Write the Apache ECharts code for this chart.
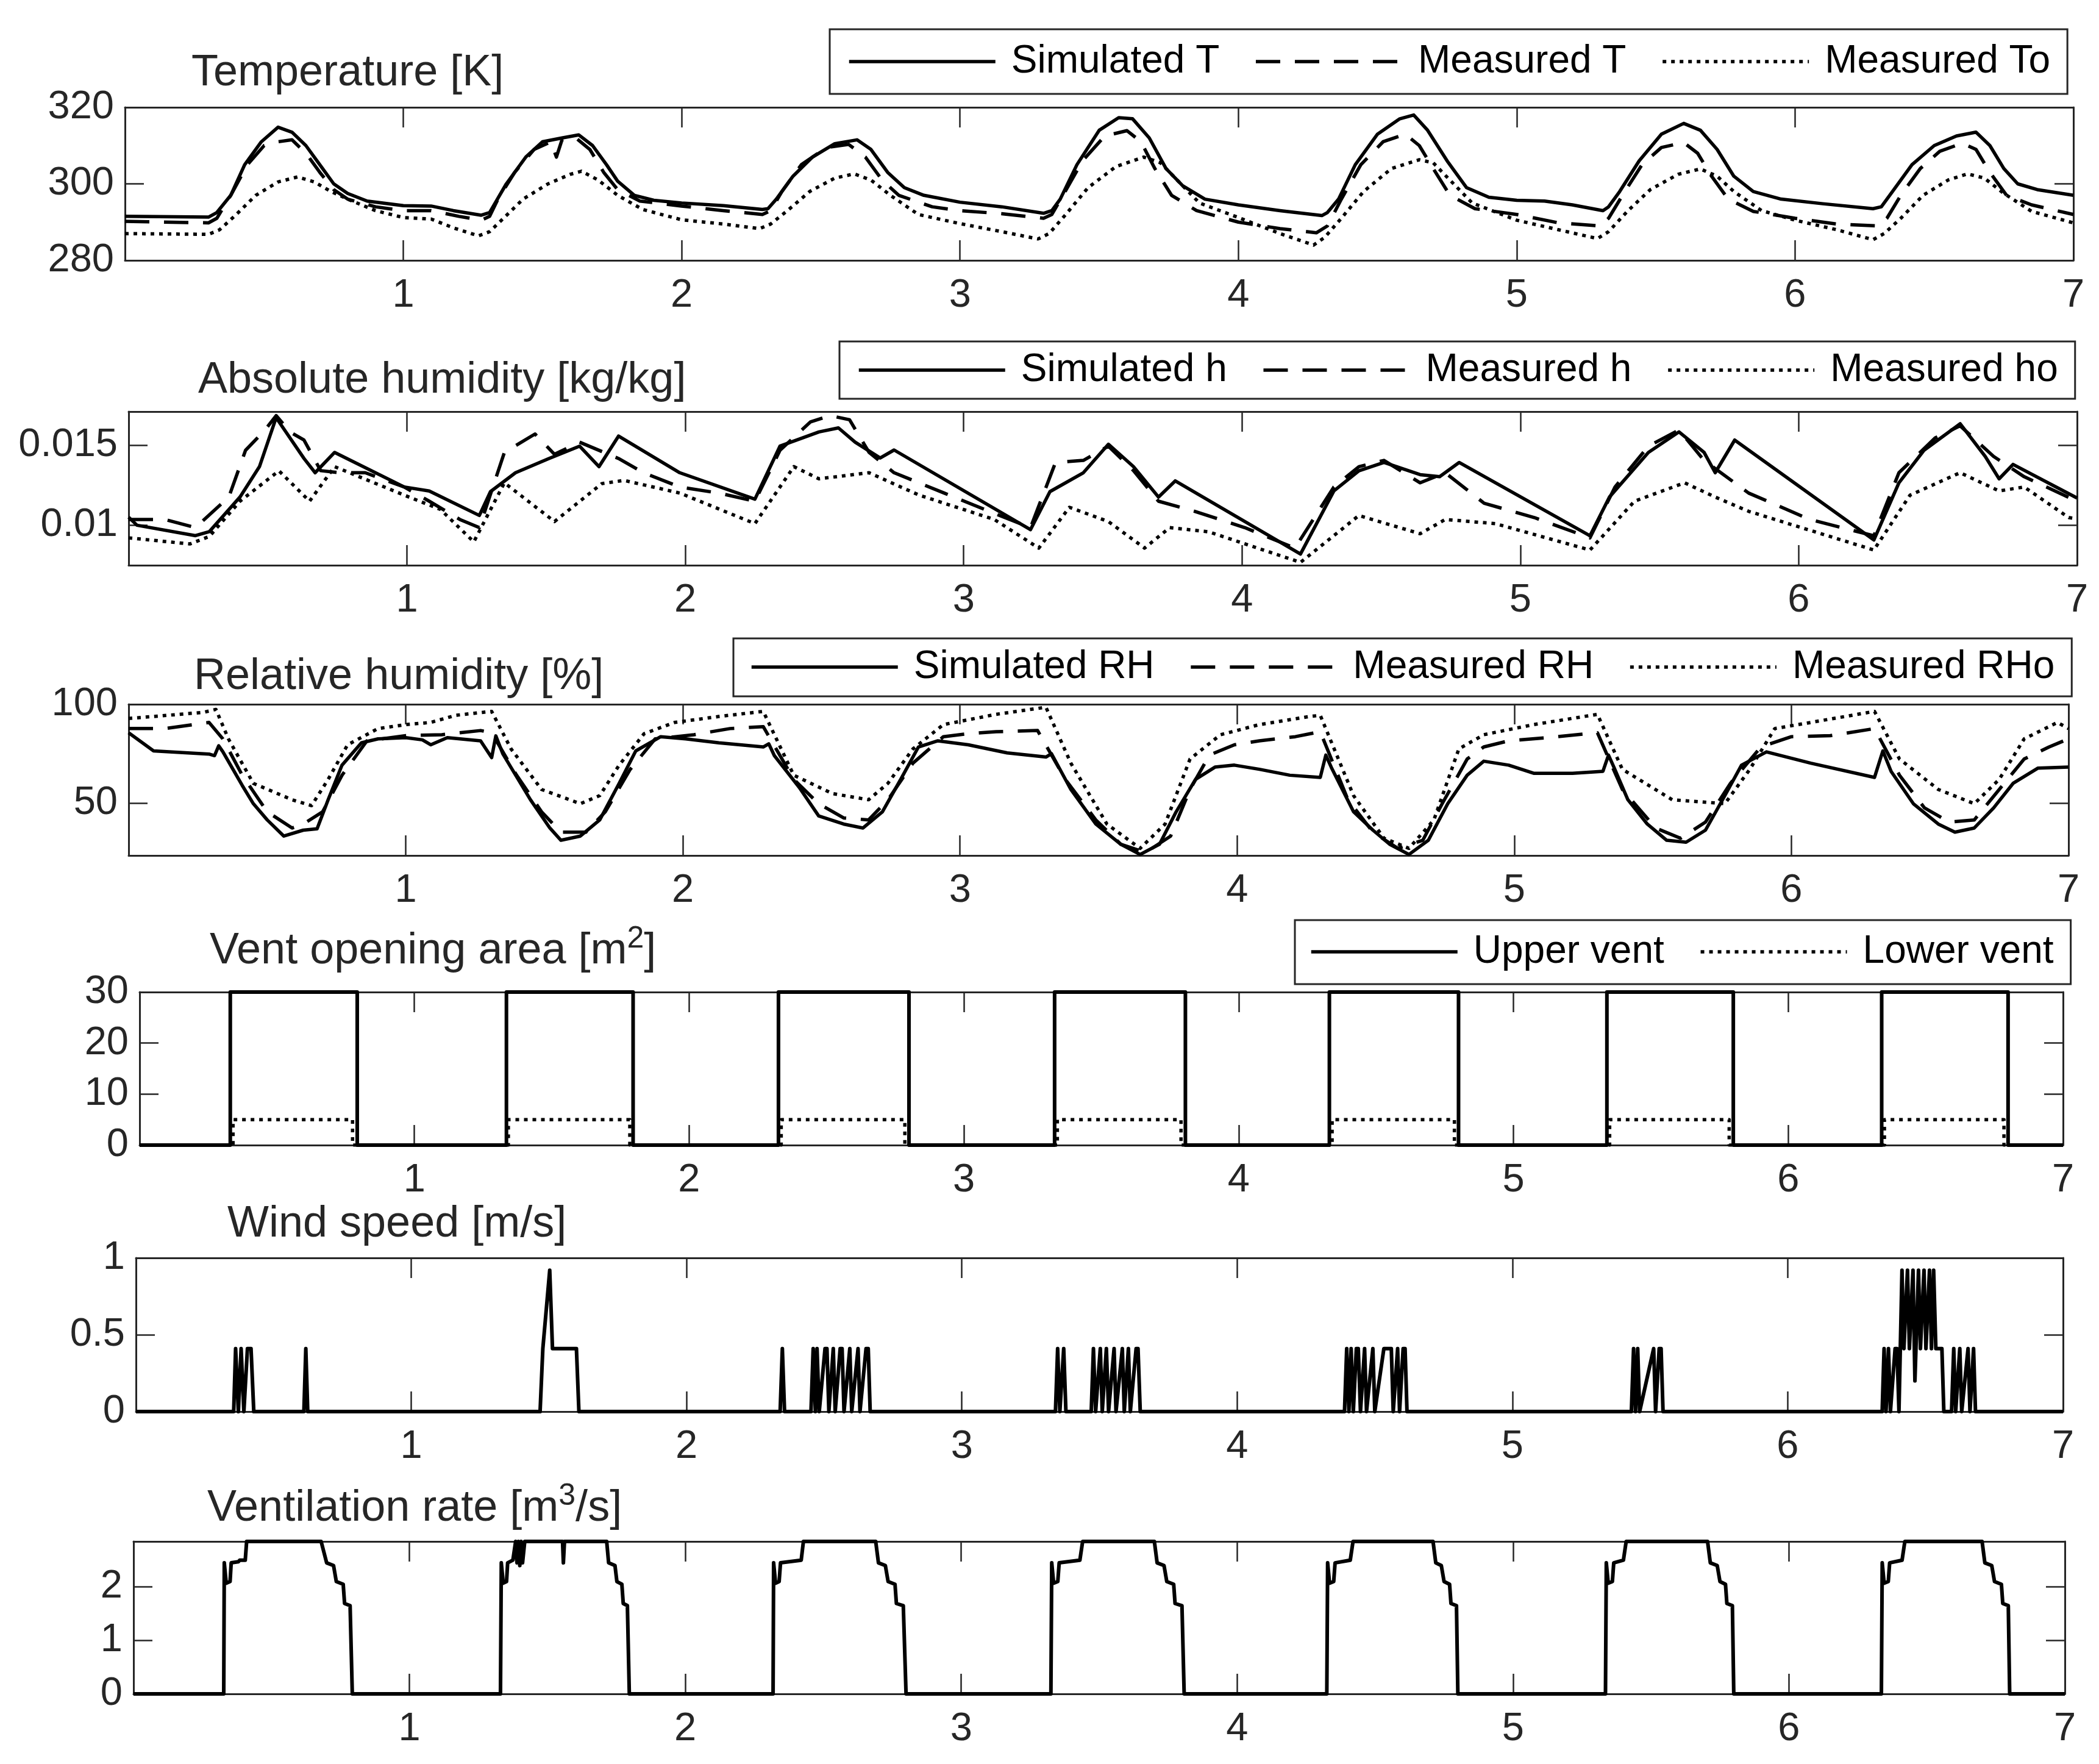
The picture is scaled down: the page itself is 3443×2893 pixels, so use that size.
<!DOCTYPE html>
<html><head><meta charset="utf-8">
<script src="https://cdn.jsdelivr.net/npm/echarts@6/dist/echarts.min.js"></script>
<style>html,body{margin:0;padding:0;background:#fff}#c{width:3443px;height:2893px}</style>
</head><body><div id="c"></div>
<script>
// ---------------- DATA (x in days) ----------------
const xTickValues = [1, 2, 3, 4, 5, 6, 7];

const tempTicks = [280, 300, 320];
const simT = [[0,291.5],[0.3,291.3],[0.33,292.5],[0.38,297],[0.43,305],[0.49,311],[0.55,314.8],[0.6,313.5],[0.65,310],[0.7,305],[0.75,300],[0.8,297.5],[0.87,295.5],[1.0,294.3],[1.1,294.2],[1.18,293],[1.28,291.8],[1.31,292.5],[1.33,295],[1.37,300],[1.44,307],[1.5,311],[1.57,312],[1.63,312.8],[1.68,310],[1.73,305],[1.77,300.7],[1.83,297],[1.9,295.7],[2.0,295],[2.15,294.3],[2.29,293.3],[2.31,293.5],[2.34,296],[2.4,302],[2.47,307],[2.55,310.5],[2.63,311.5],[2.68,309],[2.74,303],[2.8,299],[2.87,297],[3.0,295.2],[3.15,294],[3.3,292.3],[3.33,293],[3.36,296],[3.42,305],[3.5,314],[3.57,317.3],[3.62,317],[3.68,312],[3.74,304],[3.8,299.5],[3.88,296],[4.0,294.5],[4.15,293],[4.3,291.7],[4.32,292.5],[4.36,296],[4.42,305],[4.5,313],[4.58,317],[4.63,318],[4.68,314],[4.75,306],[4.82,299],[4.9,296.5],[5.0,295.7],[5.1,295.5],[5.2,294.5],[5.31,293],[5.33,294],[5.37,298],[5.44,306],[5.52,313],[5.6,315.8],[5.66,314],[5.72,309],[5.78,302],[5.85,298],[5.95,296],[6.1,294.8],[6.28,293.5],[6.31,294],[6.35,298],[6.42,305],[6.5,310],[6.58,312.5],[6.65,313.5],[6.7,310],[6.75,304],[6.8,300],[6.87,298.5],[7.0,297]];
const measT = [[0,290.2],[0.3,289.8],[0.33,291],[0.38,297],[0.44,305],[0.5,310],[0.55,311],[0.6,311.5],[0.65,308],[0.7,303],[0.75,298.5],[0.8,296],[0.9,294],[1.0,293],[1.1,293],[1.2,291.5],[1.28,290.5],[1.31,291.5],[1.34,296],[1.4,303],[1.47,309],[1.53,311],[1.55,307],[1.57,311.5],[1.62,312],[1.67,309],[1.72,303],[1.77,298.5],[1.85,295.5],[2.0,294.2],[2.15,293],[2.29,292],[2.32,293],[2.36,298],[2.43,305],[2.52,309.5],[2.6,310.3],[2.66,307],[2.72,301],[2.78,297],[2.9,294],[3.0,293],[3.15,292.2],[3.3,291],[3.33,292],[3.37,297],[3.44,306],[3.52,312.5],[3.6,313.9],[3.65,311],[3.7,304],[3.76,297],[3.85,293],[4.0,290],[4.15,288.3],[4.28,287.2],[4.32,289],[4.37,296],[4.44,305],[4.52,311],[4.6,313],[4.65,310],[4.7,304],[4.76,297],[4.85,293.5],[5.0,292],[5.15,289.8],[5.3,289],[5.33,291],[5.38,297],[5.45,305],[5.52,309.5],[5.6,310.8],[5.65,308],[5.7,302],[5.76,296],[5.85,292.8],[6.0,291],[6.15,289.5],[6.3,289],[6.33,291],[6.38,297],[6.45,304],[6.52,308.5],[6.6,310.6],[6.65,309],[6.7,303],[6.76,297],[6.85,294.5],[7.0,292]];
const measTo = [[0,287],[0.3,286.8],[0.34,288],[0.4,292],[0.47,297],[0.55,300.5],[0.62,301.8],[0.68,300.5],[0.74,298],[0.8,296],[0.9,293],[1.0,291.2],[1.1,290.8],[1.18,288.5],[1.27,286.4],[1.31,287.5],[1.36,291],[1.43,296],[1.52,300],[1.6,302.5],[1.64,303.3],[1.7,301],[1.77,297],[1.86,293.3],[2.0,290.6],[2.15,289.5],[2.28,288.3],[2.32,289.5],[2.38,293],[2.46,298],[2.55,301.5],[2.62,302.6],[2.68,301],[2.75,297],[2.85,292],[3.0,289.6],[3.15,287.5],[3.28,285.6],[3.32,287],[3.38,292],[3.46,299],[3.56,304.5],[3.66,307],[3.72,305.5],[3.78,301],[3.86,295],[4.0,291.2],[4.15,287],[4.27,284],[4.31,286],[4.37,291],[4.45,298],[4.55,304],[4.65,306.3],[4.7,305.5],[4.76,301],[4.84,295],[5.0,290.5],[5.15,288],[5.29,285.7],[5.33,287.5],[5.4,293],[5.48,298.5],[5.58,302.5],[5.66,303.9],[5.72,302],[5.78,298],[5.88,293],[6.0,290.5],[6.15,288],[6.28,285.4],[6.32,287],[6.38,291],[6.46,297],[6.55,301],[6.62,302.6],[6.68,301.5],[6.75,297.5],[6.85,292.8],[7.0,289.8]];

const humTicks = [0.01, 0.015];
const simH = [[0,0.0105],[0.03,0.0100],[0.24,0.00935],[0.29,0.0096],[0.40,0.01176],[0.47,0.01366],[0.53,0.01672],[0.63,0.01417],[0.67,0.01328],[0.74,0.01455],[0.99,0.01239],[1.08,0.01214],[1.26,0.01061],[1.30,0.0121],[1.39,0.01328],[1.51,0.01417],[1.62,0.01494],[1.69,0.01366],[1.76,0.01557],[1.98,0.01328],[2.25,0.01163],[2.34,0.01494],[2.48,0.01583],[2.55,0.01608],[2.61,0.01519],[2.70,0.0142],[2.75,0.0147],[3.24,0.00972],[3.31,0.0121],[3.43,0.01328],[3.52,0.01506],[3.61,0.01366],[3.70,0.01176],[3.76,0.01277],[4.21,0.0082],[4.33,0.01214],[4.42,0.0134],[4.51,0.01392],[4.64,0.01316],[4.71,0.01303],[4.78,0.01392],[5.25,0.00934],[5.32,0.01176],[5.46,0.01455],[5.57,0.01583],[5.66,0.01455],[5.70,0.01328],[5.77,0.01532],[6.27,0.00908],[6.36,0.01265],[6.45,0.01468],[6.58,0.01634],[6.67,0.0143],[6.72,0.0129],[6.77,0.0138],[7.0,0.0117]];
const measH = [[0,0.01036],[0.13,0.01036],[0.24,0.00985],[0.36,0.01176],[0.42,0.01468],[0.49,0.01595],[0.53,0.01685],[0.58,0.01583],[0.63,0.01532],[0.69,0.01341],[0.76,0.01328],[0.85,0.01328],[0.99,0.01239],[1.08,0.0115],[1.19,0.01036],[1.26,0.00985],[1.35,0.01455],[1.46,0.0157],[1.53,0.01443],[1.62,0.01519],[1.76,0.01417],[1.85,0.01328],[1.98,0.01239],[2.12,0.01201],[2.25,0.0115],[2.34,0.01468],[2.45,0.01646],[2.52,0.01685],[2.59,0.01659],[2.66,0.01455],[2.75,0.01328],[2.93,0.01201],[3.11,0.01074],[3.24,0.00985],[3.33,0.01392],[3.43,0.01405],[3.52,0.01494],[3.61,0.01341],[3.70,0.0115],[3.83,0.01087],[4.01,0.00985],[4.19,0.00857],[4.33,0.01239],[4.42,0.01366],[4.51,0.01405],[4.64,0.01265],[4.73,0.01328],[4.87,0.01137],[5.05,0.01048],[5.25,0.00921],[5.34,0.01239],[5.46,0.01494],[5.57,0.01595],[5.66,0.01405],[5.82,0.01201],[6.04,0.01036],[6.27,0.00934],[6.36,0.01328],[6.49,0.01545],[6.58,0.01621],[6.70,0.0143],[6.81,0.01303],[7.0,0.0115]];
const measHo = [[0,0.00921],[0.22,0.00883],[0.29,0.0093],[0.40,0.0115],[0.54,0.0134],[0.65,0.0115],[0.74,0.01366],[0.99,0.01188],[1.12,0.01099],[1.24,0.00896],[1.35,0.01265],[1.53,0.01023],[1.70,0.0126],[1.78,0.0128],[1.98,0.01201],[2.25,0.0101],[2.39,0.01366],[2.48,0.0129],[2.66,0.01328],[2.84,0.01188],[3.11,0.01036],[3.27,0.00857],[3.38,0.01112],[3.52,0.01023],[3.65,0.00857],[3.74,0.00985],[3.88,0.00959],[4.21,0.00768],[4.42,0.01061],[4.64,0.00947],[4.73,0.01036],[4.91,0.0101],[5.25,0.00845],[5.41,0.0115],[5.59,0.01265],[5.70,0.01176],[5.82,0.01087],[6.27,0.00845],[6.40,0.01188],[6.58,0.01328],[6.72,0.01214],[6.81,0.01239],[6.97,0.01048],[7.0,0.0104]];

const rhTicks = [50, 100];
const simRH = [[0,85.6],[0.09,76.4],[0.29,74.8],[0.31,74],[0.325,79],[0.34,76],[0.41,58.9],[0.45,49.7],[0.50,41.5],[0.56,33.3],[0.63,36.3],[0.68,37],[0.72,51.7],[0.77,69.2],[0.84,80.5],[0.90,82.5],[1.0,83.1],[1.06,82],[1.09,79.5],[1.15,83.1],[1.27,81.5],[1.31,73],[1.325,84],[1.35,75],[1.45,51.7],[1.52,37.4],[1.56,31.2],[1.63,33.3],[1.70,41.5],[1.77,60],[1.83,76.4],[1.92,83.6],[2.01,82.5],[2.13,80.5],[2.29,78.4],[2.31,80],[2.33,74],[2.42,57.9],[2.49,43.5],[2.58,39.4],[2.65,37.4],[2.72,45.6],[2.79,63],[2.85,78.4],[2.92,81.5],[3.03,79.5],[3.17,75.4],[3.31,73.3],[3.33,75],[3.40,56.9],[3.49,39.4],[3.58,29.2],[3.65,24],[3.72,29.2],[3.78,45.6],[3.85,62],[3.92,68.2],[3.99,69.2],[4.08,67.1],[4.19,64.1],[4.30,63],[4.32,74.3],[4.34,68],[4.42,45.6],[4.49,36.3],[4.55,29.2],[4.62,24],[4.69,31.2],[4.76,49.7],[4.83,64.1],[4.89,71.2],[4.98,69.2],[5.07,65.1],[5.21,65.1],[5.32,66.1],[5.34,74.3],[5.36,68],[5.41,51.7],[5.48,39.4],[5.55,31.2],[5.62,30.2],[5.69,36.3],[5.76,53.8],[5.82,69.2],[5.91,75.9],[6.07,70.2],[6.30,63],[6.33,76.4],[6.36,66],[6.44,49.7],[6.53,39.4],[6.59,35.3],[6.66,37.4],[6.73,47.6],[6.80,60],[6.89,67.7],[7.0,68.2]];
const measRH = [[0,87.7],[0.13,87.7],[0.29,90.8],[0.34,82.5],[0.41,64.1],[0.50,45.6],[0.59,37.4],[0.63,39.4],[0.70,45.6],[0.77,64.1],[0.86,81.5],[1.0,84.1],[1.13,84.6],[1.27,86.7],[1.31,85.6],[1.40,64.1],[1.49,45.6],[1.56,35.3],[1.65,35.3],[1.72,45.6],[1.81,67.1],[1.90,82.5],[2.04,84.6],[2.17,87.7],[2.29,88.7],[2.40,62],[2.49,49.7],[2.58,42.5],[2.67,41.5],[2.74,51.7],[2.83,70.2],[2.94,83.6],[3.03,85.1],[3.13,86.1],[3.28,86.7],[3.38,62],[3.49,41.5],[3.58,29.2],[3.67,25],[3.76,33.3],[3.83,56.9],[3.90,74.3],[3.99,79.5],[4.08,81.5],[4.21,83.6],[4.30,86.1],[4.40,51.7],[4.49,35.3],[4.58,27.1],[4.67,31.2],[4.74,49.7],[4.83,72.3],[4.89,78.4],[4.98,81.5],[5.12,83.1],[5.30,85.6],[5.39,56.9],[5.51,37.4],[5.60,32.2],[5.69,40.4],[5.78,60],[5.89,78.4],[6.00,83.6],[6.14,84.1],[6.30,87.7],[6.39,64.1],[6.48,47.6],[6.57,40.4],[6.66,41.5],[6.75,56.9],[6.84,72.3],[6.93,78.4],[7.0,82.5]];
const measRHo = [[0,92.8],[0.27,95.9],[0.315,97.4],[0.36,82.5],[0.45,60],[0.59,51.7],[0.66,48.7],[0.72,62],[0.79,79.5],[0.90,87.7],[1.0,89.7],[1.09,90.8],[1.18,94.4],[1.31,96.4],[1.38,77.4],[1.49,56.9],[1.63,49.7],[1.70,53.8],[1.77,69.2],[1.86,85.1],[1.97,90.8],[2.13,93.8],[2.29,96.4],[2.40,64.1],[2.54,54.8],[2.67,51.7],[2.74,60],[2.83,77.4],[2.94,89.7],[3.13,94.9],[3.31,98.5],[3.40,70.2],[3.53,39.4],[3.65,27.1],[3.74,39.4],[3.83,72.3],[3.94,84.6],[4.08,89.7],[4.26,93.8],[4.30,94.4],[4.42,53.8],[4.53,32.2],[4.62,27.1],[4.71,41.5],[4.80,77.4],[4.89,84.6],[5.07,89.7],[5.30,94.9],[5.39,67.1],[5.57,51.7],[5.76,49.7],[5.85,67.1],[5.94,87.7],[6.07,90.8],[6.30,96.4],[6.39,72.3],[6.53,56.9],[6.66,49.7],[6.75,62],[6.84,82.5],[6.96,90.8],[7.0,87.7]];

const ventTicks = [0, 10, 20, 30];
const upperVentLevel = 30;
const upperVentOpen  = [0.33, 1.335, 2.325, 3.33, 4.33, 5.34, 6.34];
const upperVentClose = [0.792, 1.796, 2.80, 3.806, 4.80, 5.80, 6.80];
const lowerVentLevel = 5;
const lowerVentOpen  = [0.34, 1.342, 2.335, 3.34, 4.34, 5.35, 6.35];
const lowerVentClose = [0.775, 1.784, 2.785, 3.79, 4.785, 5.785, 6.785];

const windTicks = [0, 0.5, 1];
const wind = [[0,0],
 [0.355,0],[0.362,0.41],[0.372,0],[0.382,0.41],[0.392,0],[0.405,0.41],[0.418,0.41],[0.428,0],
 [0.61,0],[0.617,0.41],[0.624,0],
 [1.468,0],[1.478,0.41],[1.503,0.92],[1.513,0.41],[1.60,0.41],[1.609,0],
 [2.34,0],[2.348,0.41],[2.356,0],
 [2.452,0],[2.46,0.41],[2.468,0],[2.474,0.41],[2.482,0],[2.503,0.41],[2.51,0.41],[2.517,0],[2.533,0.41],[2.54,0],[2.558,0.41],[2.565,0.41],[2.572,0],[2.593,0.41],[2.6,0],[2.623,0.41],[2.63,0],[2.652,0.41],[2.66,0.41],[2.667,0],
 [3.34,0],[3.348,0.41],[3.356,0],[3.37,0.41],[3.378,0],
 [3.47,0],[3.478,0.41],[3.486,0],[3.503,0.41],[3.51,0],[3.525,0.41],[3.533,0],[3.553,0.41],[3.56,0],[3.583,0.41],[3.59,0],[3.605,0.41],[3.612,0],[3.633,0.41],[3.64,0.41],[3.648,0],
 [4.39,0],[4.398,0.41],[4.406,0],[4.414,0.41],[4.422,0],[4.433,0.41],[4.44,0.41],[4.448,0],[4.463,0.41],[4.47,0],[4.493,0.41],[4.5,0],[4.533,0.41],[4.56,0.41],[4.567,0],[4.583,0.41],[4.59,0],[4.603,0.41],[4.61,0.41],[4.617,0],
 [5.432,0],[5.44,0.41],[5.447,0],[5.455,0.41],[5.462,0],[5.513,0.41],[5.52,0],[5.533,0.41],[5.54,0.41],[5.547,0],
 [6.343,0],[6.35,0.41],[6.357,0],[6.366,0.41],[6.373,0],[6.39,0.41],[6.397,0.41],[6.404,0],[6.415,0.92],[6.422,0.41],[6.435,0.92],[6.442,0.41],[6.455,0.92],[6.462,0.2],[6.475,0.92],[6.482,0.41],[6.495,0.92],[6.502,0.41],[6.515,0.92],[6.522,0.41],[6.53,0.92],[6.538,0.41],[6.56,0.41],[6.567,0],[6.595,0],[6.603,0.41],[6.61,0],[6.625,0.41],[6.632,0],[6.655,0.41],[6.662,0],[6.675,0.41],[6.682,0],
 [7,0]];

const rateTicks = [0, 1, 2];
const ventRate = [[0,0],[0.327,0],[0.329,2.45],[0.336,2.07],[0.35,2.1],[0.354,2.45],[0.38,2.47],[0.385,2.5],[0.405,2.5],[0.41,2.85],[0.68,2.85],[0.70,2.45],[0.725,2.4],[0.735,2.1],[0.76,2.05],[0.765,1.69],[0.785,1.65],[0.793,0],
 [1.33,0],[1.333,2.45],[1.34,2.07],[1.352,2.1],[1.356,2.45],[1.375,2.5],[1.385,2.85],[1.39,2.45],[1.395,2.85],[1.40,2.4],[1.405,2.85],[1.41,2.45],[1.418,2.85],[1.555,2.85],[1.558,2.45],[1.562,2.85],[1.715,2.85],[1.722,2.45],[1.745,2.4],[1.752,2.1],[1.77,2.05],[1.775,1.69],[1.79,1.65],[1.797,0],
 [2.318,0],[2.32,2.45],[2.327,2.07],[2.34,2.1],[2.345,2.45],[2.42,2.5],[2.428,2.85],[2.69,2.85],[2.70,2.45],[2.725,2.4],[2.735,2.1],[2.76,2.05],[2.765,1.69],[2.79,1.65],[2.80,0],
 [3.325,0],[3.328,2.45],[3.335,2.07],[3.35,2.1],[3.355,2.45],[3.43,2.5],[3.44,2.85],[3.70,2.85],[3.71,2.45],[3.735,2.4],[3.745,2.1],[3.77,2.05],[3.775,1.69],[3.80,1.65],[3.808,0],
 [4.325,0],[4.328,2.45],[4.335,2.07],[4.35,2.1],[4.355,2.45],[4.41,2.5],[4.42,2.85],[4.71,2.85],[4.72,2.45],[4.74,2.4],[4.75,2.1],[4.77,2.05],[4.775,1.69],[4.795,1.65],[4.80,0],
 [5.335,0],[5.338,2.45],[5.345,2.07],[5.36,2.1],[5.365,2.45],[5.40,2.5],[5.41,2.85],[5.705,2.85],[5.715,2.45],[5.74,2.4],[5.75,2.1],[5.77,2.05],[5.775,1.69],[5.795,1.65],[5.80,0],
 [6.335,0],[6.338,2.45],[6.345,2.07],[6.36,2.1],[6.365,2.45],[6.41,2.5],[6.42,2.85],[6.70,2.85],[6.71,2.45],[6.735,2.4],[6.745,2.1],[6.77,2.05],[6.775,1.69],[6.795,1.65],[6.80,0],[7,0]];

// ---------------- BUILD ----------------
function steps(opens, closes, level) {
  const out = [[0, 0]];
  for (let k = 0; k < opens.length; k++) {
    out.push([opens[k], 0], [opens[k], level], [closes[k], level], [closes[k], 0]);
  }
  out.push([7, 0]);
  return out;
}
const upperVent = steps(upperVentOpen, upperVentClose, upperVentLevel);
const lowerVent = steps(lowerVentOpen, lowerVentClose, lowerVentLevel);

const FONT = "'Liberation Sans', Arial, Helvetica, sans-serif";
const INK = '#262626';
const SOLID = 'solid', DASH = [40, 24], DOT = [6, 8];

const layout = [
  {left:205, top:176,  width:3196, height:251, yMin:280,    yMax:320,    yTicks:tempTicks},
  {left:211, top:675,  width:3196, height:252, yMin:0.0075, yMax:0.0171, yTicks:humTicks},
  {left:211, top:1155, width:3182, height:248, yMin:23.5,   yMax:100,    yTicks:rhTicks},
  {left:229, top:1627, width:3155, height:251, yMin:0,      yMax:30,     yTicks:ventTicks},
  {left:223, top:2063, width:3161, height:252, yMin:0,      yMax:1,      yTicks:windTicks},
  {left:219, top:2528, width:3168, height:250, yMin:0,      yMax:2.85,   yTicks:rateTicks}
];

const grids = [], xAxes = [], yAxes = [], series = [];
const lineSty = {color: INK, width: 3};
const tickSty = {color: INK, width: 2.5};
layout.forEach((p, i) => {
  grids.push({left:p.left, top:p.top, width:p.width, height:p.height, containLabel:false});
  ['bottom','top'].forEach(pos => xAxes.push({
    type:'value', gridIndex:i, min:0, max:7, position:pos,
    axisLine:{show:true, onZero:false, lineStyle:lineSty},
    axisTick:{show:true, inside:true, length:33, lineStyle:tickSty, customValues:xTickValues},
    axisLabel:{show:pos==='bottom', customValues:xTickValues, fontSize:65, color:INK, fontFamily:FONT, margin:26},
    splitLine:{show:false}
  }));
  ['left','right'].forEach(pos => yAxes.push({
    type:'value', gridIndex:i, min:p.yMin, max:p.yMax, position:pos,
    axisLine:{show:true, onZero:false, lineStyle:lineSty},
    axisTick:{show:true, inside:true, length:31, lineStyle:tickSty, customValues:p.yTicks},
    axisLabel:{show:pos==='left', customValues:p.yTicks, fontSize:65, color:INK, fontFamily:FONT, margin:18,
      formatter: v => String(+(+v).toFixed(4))},
    splitLine:{show:false}
  }));
});

function addLine(name, data, gi, type, width) {
  series.push({type:'line', name, data, xAxisIndex:2*gi, yAxisIndex:2*gi, symbol:'none',
    itemStyle:{color:'#000'},
    lineStyle:{color:'#000', width: width || 5.5, type, cap:'butt', join:'round'}, animation:false});
}
addLine('Measured To', measTo, 0, DOT);
addLine('Measured T', measT, 0, DASH);
addLine('Simulated T', simT, 0, SOLID);
addLine('Measured ho', measHo, 1, DOT);
addLine('Measured h', measH, 1, DASH);
addLine('Simulated h', simH, 1, SOLID);
addLine('Measured RHo', measRHo, 2, DOT);
addLine('Measured RH', measRH, 2, DASH);
addLine('Simulated RH', simRH, 2, SOLID);
addLine('Lower vent', lowerVent, 3, DOT);
addLine('Upper vent', upperVent, 3, SOLID, 6);
addLine('Wind speed', wind, 4, SOLID, 6);
addLine('Ventilation rate', ventRate, 5, SOLID, 6);

const titleStyle = {fontSize:72, fontWeight:'normal', color:INK, fontFamily:FONT, verticalAlign:'bottom',
  rich:{s:{fontSize:50, color:INK, fontFamily:FONT, padding:[0,0,40,0], verticalAlign:'bottom'}}};
const titles = [
  {text:'Temperature [K]', left:314, top:84},
  {text:'Absolute humidity [kg/kg]', left:325, top:588},
  {text:'Relative humidity [%]', left:318, top:1074},
  {text:'Vent opening area [m{s|2}]', left:344, top:1515},
  {text:'Wind speed [m/s]', left:373, top:1972},
  {text:'Ventilation rate [m{s|3}/s]', left:340, top:2429}
].map(t => Object.assign({padding:0, textStyle:titleStyle}, t));

const legendCfg = [
  {names:['Simulated T','Measured T','Measured To'], left:1361, top:48, pad:[21,28,21,29]},
  {names:['Simulated h','Measured h','Measured ho'], left:1377, top:560, pad:[15,28,15,29]},
  {names:['Simulated RH','Measured RH','Measured RHo'], left:1203, top:1047, pad:[15,28,16,27]},
  {names:['Upper vent','Lower vent'], left:2124, top:1509, pad:[20,28,21,24]}
];
const legends = legendCfg.map(L => ({
  left:L.left, top:L.top, orient:'horizontal', selectedMode:false,
  data:L.names, itemWidth:240, itemHeight:20, itemGap:57, padding:L.pad,
  borderColor:INK, borderWidth:3, backgroundColor:'#fff',
  itemStyle:{opacity:0, borderWidth:0},
  lineStyle:{width:5.5},
  textStyle:{fontSize:64, color:'#000', fontFamily:FONT, padding:[0,0,0,21]}
}));

const chart = echarts.init(document.getElementById('c'), null, {renderer:'canvas'});
chart.setOption({
  backgroundColor:'#fff', animation:false,
  title:titles, legend:legends, grid:grids, xAxis:xAxes, yAxis:yAxes, series
});
</script></body></html>
